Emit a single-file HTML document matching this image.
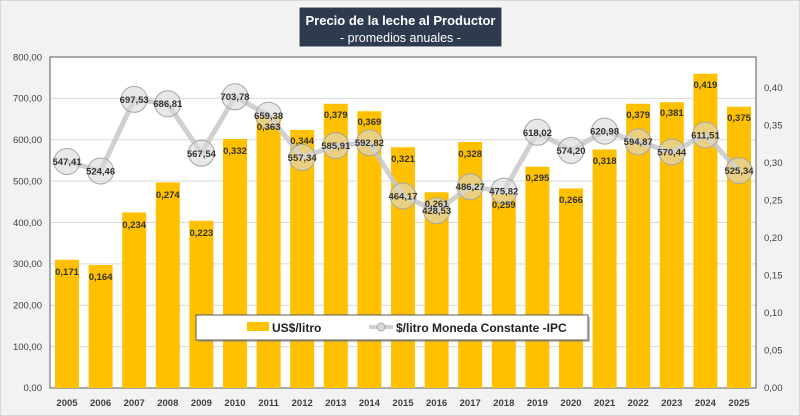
<!DOCTYPE html>
<html><head><meta charset="utf-8"><style>
html,body{margin:0;padding:0;background:#f2f2f2;}
svg{display:block;font-family:"Liberation Sans",Arial,sans-serif;}
</style></head><body>
<svg width="800" height="416" viewBox="0 0 800 416" xmlns="http://www.w3.org/2000/svg">
<rect x="0.5" y="0.5" width="799" height="415" fill="#f2f2f2" stroke="#d9d9d9"/>
<rect x="50" y="57" width="706" height="331" fill="#ffffff"/>
<g stroke="#d9d9d9" stroke-width="1">
<line x1="50" x2="756" y1="346.6" y2="346.6"/><line x1="50" x2="756" y1="305.3" y2="305.3"/>
<line x1="50" x2="756" y1="263.9" y2="263.9"/><line x1="50" x2="756" y1="222.5" y2="222.5"/>
<line x1="50" x2="756" y1="181.1" y2="181.1"/><line x1="50" x2="756" y1="139.8" y2="139.8"/>
<line x1="50" x2="756" y1="98.4" y2="98.4"/>
</g>
<rect x="50" y="57" width="706" height="331" fill="none" stroke="#595959" stroke-width="1"/>
<g fill="#ffc000">
<rect x="55" y="259.75" width="24" height="128.25"/>
<rect x="88.6" y="265" width="24" height="123"/>
<rect x="122.2" y="212.5" width="24" height="175.5"/>
<rect x="155.8" y="182.5" width="24" height="205.5"/>
<rect x="189.4" y="220.75" width="24" height="167.25"/>
<rect x="223" y="139" width="24" height="249"/>
<rect x="256.6" y="115.75" width="24" height="272.25"/>
<rect x="290.2" y="130" width="24" height="258"/>
<rect x="323.8" y="103.75" width="24" height="284.25"/>
<rect x="357.4" y="111.25" width="24" height="276.75"/>
<rect x="391" y="147.25" width="24" height="240.75"/>
<rect x="424.6" y="192.25" width="24" height="195.75"/>
<rect x="458.2" y="142" width="24" height="246"/>
<rect x="491.8" y="193.75" width="24" height="194.25"/>
<rect x="525.4" y="166.75" width="24" height="221.25"/>
<rect x="559" y="188.5" width="24" height="199.5"/>
<rect x="592.6" y="149.5" width="24" height="238.5"/>
<rect x="626.2" y="103.75" width="24" height="284.25"/>
<rect x="659.8" y="102.25" width="24" height="285.75"/>
<rect x="693.4" y="73.75" width="24" height="314.25"/>
<rect x="727" y="106.75" width="24" height="281.25"/>
</g>
<polyline fill="none" stroke="#c8c8c8" stroke-opacity="0.85" stroke-width="5" stroke-linejoin="round" points="67,161.5 100.6,171 134.2,99.4 167.8,103.8 201.4,153.2 235,96.8 268.6,115.2 302.2,157.4 335.8,145.6 369.4,142.7 403,196 436.6,210.7 470.2,186.8 503.8,191.1 537.4,132.3 571,150.4 604.6,131.1 638.2,141.9 671.8,152 705.4,135 739,170.6"/>
<g fill="#d9d9d9" fill-opacity="0.6" stroke="#a6a6a6" stroke-width="1">
<circle cx="67" cy="161.5" r="13"/><circle cx="100.6" cy="171" r="13"/><circle cx="134.2" cy="99.4" r="13"/>
<circle cx="167.8" cy="103.8" r="13"/><circle cx="201.4" cy="153.2" r="13"/><circle cx="235" cy="96.8" r="13"/>
<circle cx="268.6" cy="115.2" r="13"/><circle cx="302.2" cy="157.4" r="13"/><circle cx="335.8" cy="145.6" r="13"/>
<circle cx="369.4" cy="142.7" r="13"/><circle cx="403" cy="196" r="13"/><circle cx="436.6" cy="210.7" r="13"/>
<circle cx="470.2" cy="186.8" r="13"/><circle cx="503.8" cy="191.1" r="13"/><circle cx="537.4" cy="132.3" r="13"/>
<circle cx="571" cy="150.4" r="13"/><circle cx="604.6" cy="131.1" r="13"/><circle cx="638.2" cy="141.9" r="13"/>
<circle cx="671.8" cy="152" r="13"/><circle cx="705.4" cy="135" r="13"/><circle cx="739" cy="170.6" r="13"/>
</g>
<g font-size="9.5" font-weight="bold" fill="#333" text-anchor="middle">
<text x="67" y="275">0,171</text><text x="100.6" y="280">0,164</text><text x="134.2" y="228">0,234</text>
<text x="167.8" y="198">0,274</text><text x="201.4" y="236">0,223</text><text x="235" y="154">0,332</text>
<text x="268.6" y="130">0,363</text><text x="302.2" y="144">0,344</text><text x="335.8" y="118">0,379</text>
<text x="369.4" y="125">0,369</text><text x="403" y="162">0,321</text><text x="436.6" y="207">0,261</text>
<text x="470.2" y="157">0,328</text><text x="503.8" y="208">0,259</text><text x="537.4" y="181">0,295</text>
<text x="571" y="203">0,266</text><text x="604.6" y="164">0,318</text><text x="638.2" y="118">0,379</text>
<text x="671.8" y="116">0,381</text><text x="705.4" y="88">0,419</text><text x="739" y="121">0,375</text>
</g>
<g font-size="9.5" font-weight="bold" fill="#333" text-anchor="middle">
<text x="67" y="165">547,41</text><text x="100.6" y="174.5">524,46</text><text x="134.2" y="103">697,53</text>
<text x="167.8" y="107">686,81</text><text x="201.4" y="157">567,54</text><text x="235" y="100">703,78</text>
<text x="268.6" y="119">659,38</text><text x="302.2" y="161">557,34</text><text x="335.8" y="149">585,91</text>
<text x="369.4" y="146">592,82</text><text x="403" y="199.5">464,17</text><text x="436.6" y="214">428,53</text>
<text x="470.2" y="190">486,27</text><text x="503.8" y="194.5">475,82</text><text x="537.4" y="136">618,02</text>
<text x="571" y="154">574,20</text><text x="604.6" y="134.5">620,98</text><text x="638.2" y="145">594,87</text>
<text x="671.8" y="155.5">570,44</text><text x="705.4" y="138.5">611,51</text><text x="739" y="174">525,34</text>
</g>
<g font-size="9.5" fill="#404040" text-anchor="end">
<text x="42" y="391">0,00</text><text x="42" y="350">100,00</text><text x="42" y="308.5">200,00</text>
<text x="42" y="267">300,00</text><text x="42" y="226">400,00</text><text x="42" y="184.5">500,00</text>
<text x="42" y="143">600,00</text><text x="42" y="101.5">700,00</text><text x="42" y="60.5">800,00</text>
</g>
<g font-size="9.5" fill="#404040" text-anchor="start">
<text x="764" y="391">0,00</text><text x="764" y="353.5">0,05</text><text x="764" y="316">0,10</text>
<text x="764" y="278.5">0,15</text><text x="764" y="241">0,20</text><text x="764" y="203.5">0,25</text>
<text x="764" y="166">0,30</text><text x="764" y="128.5">0,35</text><text x="764" y="91">0,40</text>
</g>
<g font-size="9.5" font-weight="bold" fill="#404040" text-anchor="middle">
<text x="67" y="406">2005</text><text x="100.6" y="406">2006</text><text x="134.2" y="406">2007</text>
<text x="167.8" y="406">2008</text><text x="201.4" y="406">2009</text><text x="235" y="406">2010</text>
<text x="268.6" y="406">2011</text><text x="302.2" y="406">2012</text><text x="335.8" y="406">2013</text>
<text x="369.4" y="406">2014</text><text x="403" y="406">2015</text><text x="436.6" y="406">2016</text>
<text x="470.2" y="406">2017</text><text x="503.8" y="406">2018</text><text x="537.4" y="406">2019</text>
<text x="571" y="406">2020</text><text x="604.6" y="406">2021</text><text x="638.2" y="406">2022</text>
<text x="671.8" y="406">2023</text><text x="705.4" y="406">2024</text><text x="739" y="406">2025</text>
</g>
<rect x="198" y="317" width="392" height="25" fill="#7f7f7f" opacity="0.5"/>
<rect x="196" y="315" width="392" height="25" fill="#ffffff" stroke="#595959" stroke-width="1"/>
<rect x="247" y="322" width="22" height="9" fill="#ffc000"/>
<text x="272" y="332" font-size="12" font-weight="bold" fill="#222">US$/litro</text>
<line x1="369" x2="393" y1="327" y2="327" stroke="#d0d0d0" stroke-width="4"/>
<circle cx="381" cy="327" r="4" fill="#d9d9d9" stroke="#a6a6a6"/>
<text x="396" y="332" font-size="12" font-weight="bold" fill="#222">$/litro Moneda Constante -IPC</text>
<rect x="299" y="7" width="203" height="40" fill="#2e3b4e" stroke="#fff" stroke-width="1"/>
<text x="400.5" y="25" font-size="13" font-weight="bold" fill="#fff" text-anchor="middle">Precio de la leche al Productor</text>
<text x="400.5" y="42" font-size="12.5" fill="#fff" text-anchor="middle">- promedios anuales -</text>
</svg>
</body></html>
